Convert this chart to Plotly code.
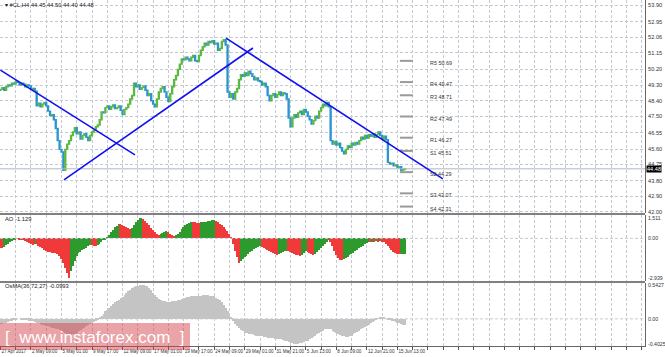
import plotly.graph_objects as go

# ---------------- data ----------------
first_open = 49.00
closes = [
    49.05, 49.15, 49.00, 49.20, 49.30, 49.25,
    49.40, 49.35, 49.50, 49.45, 49.30, 49.40, 49.35, 49.20, 49.30, 49.25,
    49.05, 49.10, 48.95,
    48.10, 48.25, 48.05, 48.20, 48.30, 48.10,
    47.80, 47.55, 47.60, 47.30,
    46.80, 46.10, 45.60,
    45.45,
    44.40,
    45.60,
    45.90, 46.10, 46.40, 46.60, 46.85,
    46.50, 46.60, 46.20, 46.40, 46.50, 46.30, 46.10, 46.40, 46.60,
    46.70, 46.90, 47.00, 47.30,
    47.75, 47.70,
    48.00, 48.10, 47.90, 48.05, 48.15, 47.95, 48.00, 48.10, 47.85, 47.60, 47.90, 48.00,
    48.20, 48.50, 48.70,
    49.40,
    49.20, 49.30, 49.05, 49.15, 49.25,
    49.00, 48.70, 48.80, 48.40,
    48.20, 48.05,
    48.50, 48.90, 49.10, 49.20,
    48.90, 48.60, 48.35,
    48.80, 49.20, 49.60, 49.85,
    50.20, 50.50, 50.80, 50.75,
    50.90, 50.80, 50.70, 50.90, 51.00,
    50.70, 50.65,
    51.00, 51.30, 51.50,
    51.70, 51.60, 51.80, 51.75, 51.85, 51.65, 51.70,
    51.30, 51.40,
    51.80, 51.90, 51.60,
    48.90,
    48.60, 48.80, 48.50, 48.90, 49.10,
    49.60, 49.90,
    49.80, 50.00, 49.85, 50.10, 49.95,
    49.80, 49.60, 49.70, 49.55,
    49.50, 49.30, 49.40, 49.20,
    48.70, 48.40,
    48.70, 48.80, 48.60, 48.75, 48.90,
    48.70, 48.85, 48.80, 48.50,
    47.40, 46.90,
    47.40, 47.60, 47.45, 47.70,
    47.80, 47.60, 47.90, 47.75, 47.50,
    47.30, 47.05, 47.25, 47.50, 47.40,
    47.80, 48.00, 48.20, 48.10, 48.30, 48.05,
    46.10,
    45.90, 46.05, 45.85, 45.95, 45.70,
    45.50, 45.35, 45.60,
    45.80, 45.70, 45.95, 45.85, 46.00, 45.90, 46.10,
    46.30, 46.20, 46.40, 46.25, 46.45, 46.35, 46.50,
    46.30, 46.45, 46.60, 46.40, 46.20, 46.35, 46.15,
    44.85,
    44.75, 44.80, 44.65, 44.70, 44.55, 44.60,
    44.40, 44.45, 44.48,
]
last_high = 44.50
last_low = 44.40
last_price = 44.48

ao_values = [
    -0.70, -0.72, -0.62, -0.50, -0.38, -0.28, -0.20, -0.12, -0.06, -0.03,
    -0.05,
    -0.10, -0.15, -0.22, -0.28, -0.35, -0.42, -0.48,
    -0.40,
    -0.45, -0.55, -0.65, -0.75, -0.85, -0.95, -1.00,
    -1.02, -1.05, -1.08, -1.10, -1.13,
    -1.30, -1.55, -1.85, -2.20,
    -2.60, -2.939,
    -2.45, -2.05, -1.65, -1.32,
    -1.10, -0.98, -0.88, -0.78, -0.68, -0.58, -0.50,
    -0.52, -0.56, -0.60,
    -0.50, -0.38, -0.26, -0.15, -0.05,
    0.09, 0.26, 0.44,
    0.63, 0.84, 0.95, 1.05,
    1.03, 0.98, 0.92, 0.84, 0.75, 0.69,
    0.79, 0.97, 1.19, 1.36, 1.48,
    1.511,
    1.45, 1.32, 1.14, 0.97, 0.79, 0.62, 0.48,
    0.35, 0.28,
    0.33, 0.42, 0.48, 0.55,
    0.44, 0.33, 0.25, 0.19,
    0.22,
    0.31, 0.48, 0.66, 0.84, 0.97, 1.07, 1.16, 1.21,
    1.20, 1.19, 1.17, 1.16,
    1.18, 1.20, 1.21, 1.23, 1.26, 1.29, 1.34, 1.37,
    1.32, 1.23, 1.10, 0.97, 0.84, 0.70, 0.53, 0.31,
    0.04, -0.45, -0.95, -1.40, -1.80,
    -1.70,
    -1.55, -1.40, -1.28, -1.15, -1.02, -0.92, -0.82, -0.74, -0.66, -0.60,
    -0.64, -0.70, -0.78, -0.86, -0.95, -1.03, -1.10, -1.18, -1.25,
    -1.18, -1.10, -1.02, -0.96, -0.90,
    -0.95, -1.02, -1.08, -1.14, -1.20, -1.25, -1.28,
    -1.20, -1.05, -0.95,
    -1.00, -1.08, -1.18, -1.26,
    -1.15, -1.00, -0.85, -0.70, -0.55, -0.40, -0.25, -0.12,
    -0.30, -0.60, -0.90, -1.20, -1.45, -1.58, -1.63,
    -1.55, -1.45, -1.35, -1.25, -1.15, -1.05, -0.95, -0.85, -0.75, -0.65, -0.55, -0.45, -0.35, -0.28,
    -0.30, -0.25, -0.30, -0.22, -0.28, -0.20, -0.25, -0.30,
    -0.40, -0.55, -0.70, -0.85, -0.98, -1.08, -1.14, -1.17,
    -1.15, -1.14, -1.129,
]

osma_values = [
    -0.08, -0.08, -0.07, -0.06, -0.05, -0.04, -0.03,
    -0.02, -0.01, 0.00, 0.00, -0.01, -0.01, -0.02, -0.02, -0.03, -0.03, -0.04, -0.05, -0.06, -0.07, -0.08, -0.09,
    -0.10, -0.11, -0.12, -0.13, -0.14, -0.15, -0.16, -0.17, -0.18, -0.19, -0.21, -0.23, -0.25,
    -0.26, -0.26, -0.25, -0.24, -0.22, -0.20, -0.18, -0.16, -0.14, -0.12,
    -0.10, -0.08, -0.06, -0.05, -0.03, -0.01,
    0.02, 0.05, 0.08, 0.12, 0.15,
    0.18, 0.21, 0.24, 0.27, 0.29, 0.31, 0.33,
    0.35, 0.38, 0.41, 0.44, 0.47, 0.49, 0.51,
    0.52, 0.53, 0.54, 0.5427, 0.54, 0.53, 0.52, 0.50,
    0.46, 0.42, 0.38, 0.35, 0.32, 0.30,
    0.29, 0.28, 0.27, 0.27, 0.27, 0.28, 0.28,
    0.29, 0.30, 0.31, 0.32, 0.33, 0.34, 0.35,
    0.35, 0.36, 0.36, 0.36, 0.37, 0.37, 0.37, 0.38, 0.38, 0.38, 0.38, 0.37, 0.37, 0.36,
    0.34, 0.32, 0.30, 0.27, 0.23, 0.18, 0.13, 0.07, 0.02,
    -0.03, -0.08, -0.12, -0.15, -0.18, -0.20, -0.22, -0.23, -0.24, -0.25, -0.25, -0.26,
    -0.27, -0.27, -0.28, -0.28, -0.29, -0.29, -0.30, -0.30, -0.31, -0.31, -0.32, -0.32, -0.33, -0.33, -0.34, -0.35, -0.36,
    -0.37, -0.38, -0.39, -0.40, -0.4025, -0.40, -0.39, -0.38, -0.37, -0.36, -0.35, -0.33,
    -0.31, -0.29, -0.27, -0.25, -0.23, -0.21, -0.19, -0.17, -0.16, -0.16, -0.17,
    -0.19, -0.21, -0.23, -0.25, -0.26, -0.27, -0.28, -0.29, -0.29, -0.28,
    -0.27, -0.25, -0.23, -0.21, -0.19, -0.17, -0.15, -0.13, -0.11, -0.09, -0.07, -0.05, -0.03, -0.01, 0.01, 0.02, 0.03,
    0.02, 0.00, -0.01, -0.02, -0.03, -0.04, -0.05, -0.06, -0.07, -0.08, -0.09, -0.0993,
]

time_labels = ["27 Apr 2017", "2 May 09:00", "5 May 01:00", "9 May 17:00", "12 May 09:00",
               "17 May 01:00", "19 May 17:00", "24 May 09:00", "29 May 01:00", "31 May 21:00",
               "5 Jun 13:00", "8 Jun 09:00", "12 Jun 21:00", "15 Jun 13:00"]
bars_per_label = 16

price_ticks = [42.00, 42.90, 43.80, 44.75, 45.60, 46.55, 47.50, 48.40, 49.30, 50.20, 51.15, 52.06, 52.95, 53.90]
price_tick_text = ["42.00", "42.90", "43.80", "44.75", "45.60", "46.55", "47.50", "48.40", "49.30",
                   "50.20", "51.15", "52.06", "52.95", "53.90"]

ao_ticks = [1.511, 0.0, -2.939]
ao_tick_text = ["1.511", "0.00", "-2.939"]
osma_ticks = [0.5427, 0.0, -0.4025]
osma_tick_text = ["0.5427", "0.00", "-0.4025"]

pivot_names = ["R5", "R4", "R3", "R2", "R1", "S1", "S2", "S3", "S4"]
pivot_levels = [50.69, 49.47, 48.71, 47.49, 46.27, 45.51, 44.29, 43.07, 42.31]

# trend lines: (bar0, price0, bar1, price1)
trend_lines = [
    (0.0, 50.16, 70.5, 45.28),
    (33.3, 43.84, 132.3, 51.43),
    (118.2, 52.00, 231.8, 43.90),
]

symbol_header = "#CL,H4 44.45 44.50 44.40 44.48"
ao_title = "AO -1.129"
osma_title = "OsMA(36,72,27) -0.0993"
watermark = "[  www.instaforex.com  ]"

# ---------------- derived ----------------
n = len(closes)
bars = list(range(n))
opens = [first_open] + closes[:-1]
highs = [max(o, c) for o, c in zip(opens, closes)]
lows = [min(o, c) for o, c in zip(opens, closes)]
highs[-1] = last_high
lows[-1] = last_low

ao_colors = []
for i, v in enumerate(ao_values):
    up = i > 0 and v > ao_values[i - 1]
    ao_colors.append("#2c9a2c" if up else "#f03a3a")

W, H = 665, 357
PLOT_R = 645 / W
def py(px):
    return (H - px) / H

X_RANGE = [-0.21, 337.7]
FONT = "Liberation Sans"
GRID = "#c5c9d3"

fig = go.Figure()

fig.add_trace(go.Candlestick(
    x=bars, open=opens, high=highs, low=lows, close=closes,
    increasing=dict(line=dict(color="#5cb840", width=1.4), fillcolor="#5cb840"),
    decreasing=dict(line=dict(color="#2b95d0", width=1.4), fillcolor="#2b95d0"),
    whiskerwidth=0, xaxis="x", yaxis="y", showlegend=False, hoverinfo="skip",
))

fig.add_trace(go.Bar(
    x=bars, y=ao_values, marker=dict(color=ao_colors, line=dict(width=0)),
    width=0.75, xaxis="x2", yaxis="y2", showlegend=False,
))

fig.add_trace(go.Bar(
    x=bars, y=osma_values, marker=dict(color="#c4c4c4", line=dict(width=0)),
    width=0.5, xaxis="x3", yaxis="y3", showlegend=False,
))

grid_vals = list(range(0, 337, 8))
grid_text = []
for v in grid_vals:
    k = v // bars_per_label
    if v % bars_per_label == 0 and k < len(time_labels):
        grid_text.append(time_labels[k])
    else:
        grid_text.append("")

xcommon = dict(range=X_RANGE, domain=[0, PLOT_R], showgrid=True, gridcolor=GRID,
               griddash="3px,2px", gridwidth=1, zeroline=False, tickvals=grid_vals,
               fixedrange=True, automargin=False)

ycommon = dict(side="right", zeroline=False, showline=True, linecolor="#666666", ticks="",
               ticklabelstandoff=1, fixedrange=True, automargin=False)

fig.update_layout(
    width=W, height=H, margin=dict(l=0, r=0, t=0, b=0, autoexpand=False),
    paper_bgcolor="white", plot_bgcolor="white",
    font=dict(family=FONT, size=7, color="#333333"),
    bargap=0,
    xaxis=dict(**xcommon, showticklabels=False, rangeslider=dict(visible=False), anchor="y"),
    xaxis2=dict(**xcommon, showticklabels=False, anchor="y2", matches="x"),
    xaxis3=dict(**xcommon, ticktext=grid_text, showticklabels=True, anchor="y3", matches="x",
                ticks="outside", ticklen=3, tickcolor="#555555", tickangle=0,
                ticklabelposition="outside right", showline=True, linecolor="#666666",
                tickfont=dict(family=FONT, size=4.6, color="#333333")),
    yaxis=dict(**ycommon, domain=[py(213), 1.0], range=[41.94, 54.19],
               tickvals=price_ticks, ticktext=price_tick_text, showgrid=True, gridcolor=GRID,
               griddash="3px,2px", anchor="x", tickfont=dict(family=FONT, size=5.6, color="#333333")),
    yaxis2=dict(**ycommon, domain=[py(281), py(215)], range=[-3.162, 1.734],
                tickvals=ao_ticks, ticktext=ao_tick_text, showgrid=False, anchor="x2",
                tickfont=dict(family=FONT, size=5.2, color="#333333")),
    yaxis3=dict(**ycommon, domain=[py(346), py(283)], range=[-0.4345, 0.575],
                tickvals=osma_ticks, ticktext=osma_tick_text, showgrid=False, anchor="x3",
                tickfont=dict(family=FONT, size=5.2, color="#333333")),
)

shapes = []
# zero lines
shapes.append(dict(type="line", xref="paper", x0=0, x1=PLOT_R, yref="y2", y0=0, y1=0,
                   line=dict(color=GRID, width=1, dash="3px,2px")))
shapes.append(dict(type="line", xref="paper", x0=0, x1=PLOT_R, yref="y3", y0=0, y1=0,
                   line=dict(color=GRID, width=1, dash="3px,2px")))
# pane separators
for sep in (214, 282):
    shapes.append(dict(type="line", xref="paper", x0=0, x1=PLOT_R, yref="paper",
                       y0=py(sep), y1=py(sep), line=dict(color="#808080", width=2)))
# bid line
shapes.append(dict(type="line", xref="paper", x0=0, x1=PLOT_R, yref="y",
                   y0=last_price, y1=last_price, line=dict(color="#aeb6c4", width=1)))
# pivot level segments
for lvl in pivot_levels:
    shapes.append(dict(type="line", xref="x", x0=209.3, x1=216.1, yref="y", y0=lvl, y1=lvl,
                       line=dict(color="#9a9a9a", width=2)))
# trend lines
for (b0, p0, b1, p1) in trend_lines:
    shapes.append(dict(type="line", xref="x", x0=b0, x1=b1, yref="y", y0=p0, y1=p1,
                       line=dict(color="#1010f0", width=1.6)))
# watermark box
shapes.append(dict(type="rect", xref="paper", x0=0, x1=190 / W, yref="paper",
                   y0=py(350), y1=py(323), fillcolor="rgba(212,62,72,0.48)",
                   line=dict(width=0), layer="above"))
fig.update_layout(shapes=shapes)

ann = []
ann.append(dict(xref="paper", yref="paper", x=3 / W, y=py(5), xanchor="left", yanchor="middle",
                text="▾ " + symbol_header, showarrow=False, font=dict(family=FONT, size=5.8, color="#222222")))
ann.append(dict(xref="paper", yref="paper", x=3 / W, y=py(219), xanchor="left", yanchor="middle",
                text=ao_title, showarrow=False, font=dict(family=FONT, size=5.8, color="#222222")))
ann.append(dict(xref="paper", yref="paper", x=3 / W, y=py(286), xanchor="left", yanchor="middle",
                text=osma_title, showarrow=False, font=dict(family=FONT, size=5.8, color="#222222")))
for name, lvl in zip(pivot_names, pivot_levels):
    ann.append(dict(xref="x", yref="y", x=224, y=lvl, xanchor="left", yanchor="middle", yshift=-2,
                    text=f"{name} {lvl:.2f}", showarrow=False,
                    font=dict(family=FONT, size=5.4, color="#333333")))
ann.append(dict(xref="paper", yref="y", x=PLOT_R + 1 / W, y=last_price, xanchor="left", yanchor="middle",
                text=f"{last_price:.2f}", showarrow=False, bgcolor="#000000", borderpad=0,
                font=dict(family=FONT, size=5.6, color="white")))
ann.append(dict(xref="paper", yref="paper", x=95 / W, y=py(337), xanchor="center", yanchor="middle",
                text=watermark, showarrow=False, font=dict(family="Liberation Sans", size=17, color="white")))
fig.update_layout(annotations=ann)

fig.write_html("out.html", config={"displayModeBar": False},
               post_script="document.body.style.margin='0';document.body.style.overflow='hidden';")
